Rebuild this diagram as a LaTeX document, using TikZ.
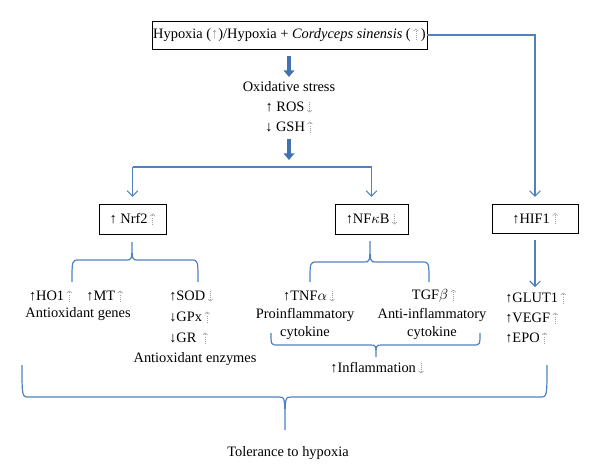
\documentclass[tikz,border=0pt]{standalone}
\usepackage{fontspec}
\setmainfont{Liberation Serif}
\usetikzlibrary{arrows.meta}
\definecolor{lblue}{HTML}{4F81BD}
\definecolor{dblue}{HTML}{4372B0}
\newcommand\dup{\,\tikz[baseline=0pt]\draw[gray!75, densely dotted, line width=0.55pt, -{Straight Barb[length=1.5pt,width=3.6pt,line width=0.45pt]}] (0,-0.6pt) -- (0,7.6pt);}
\newcommand\ddn{\,\tikz[baseline=0pt]\draw[gray!75, densely dotted, line width=0.55pt, -{Straight Barb[length=1.5pt,width=3.6pt,line width=0.45pt]}] (0,7.6pt) -- (0,-0.6pt);}
\newcommand\myhbrace[6]{%
  \draw[bl] (#1,#3) .. controls (#1,#4) and (#1,#4) .. ({#1+7},#4) -- ({#5-6},#4)
    .. controls (#5,#4) and (#5,#4) .. (#5,#6)
    .. controls (#5,#4) and (#5,#4) .. ({#5+6},#4) -- ({#2-7},#4)
    .. controls (#2,#4) and (#2,#4) .. (#2,#3);}
\begin{document}
\begin{tikzpicture}[x=0.75pt,y=-0.75pt,
  font=\fontsize{10.8}{12}\selectfont,
  bl/.style={draw=lblue, line width=0.9pt},
  arr/.style={bl, -{Straight Barb[length=4pt,width=8pt,line width=0.8pt]}},
  bigarr/.style={draw=dblue, line width=3.2pt, -{Triangle[length=5pt,width=8pt]}},
  box/.style={draw, line width=0.65pt, inner sep=0pt, minimum height=22pt},
  lab/.style={inner sep=0pt, anchor=center},
  labl/.style={inner sep=0pt, anchor=west},
  two/.style={inner sep=0pt, align=center, font=\fontsize{10.8}{13}\selectfont}]
\useasboundingbox (0,0) rectangle (600,472);

% top
\node[box, minimum width=206.25pt, minimum height=21pt] (top) at (289.5,35)
  {Hypoxia (\textcolor{gray!80}{↑})/Hypoxia + \textit{Cordyceps sinensis} (\dup\,)};

\coordinate (a1s) at (289,56);
\coordinate (a1e) at (289,77);
\draw[bigarr] (a1s) -- (a1e);
\node[lab] (ox) at (289,87) {Oxidative stress};
\node[lab] (ros) at (289,107) {↑ ROS\ddn};
\node[lab] (gsh) at (289,127) {↓ GSH\dup};
\coordinate (a2s) at (289,139);
\coordinate (a2e) at (289,160);
\draw[bigarr] (a2s) -- (a2e);

% boxes
\node[box, minimum width=50.25pt, minimum height=22.5pt] (nrf) at (132.5,219) {↑ Nrf2\dup};
\node[box, minimum width=54.75pt, minimum height=22.5pt] (nfkb) at (371.5,219) {↑NF$\kappa$B\ddn};
\node[box, minimum width=64.5pt, minimum height=21.75pt] (hif) at (535,218.5) {↑HIF1\dup};

\coordinate (hl) at (132.5,167);
\coordinate (hr) at (371.5,167);
\draw[bl] (hl) -- (hr);
\draw[arr, shorten >=5pt] (hl) -- (nrf.north);
\draw[arr, shorten >=5pt] (hr) -- (nfkb.north);
\draw[arr, shorten >=5pt] (top.east) -| (hif.north);

% braces under boxes
\myhbrace{72}{198}{282}{260}{132}{242}
\myhbrace{310}{429}{282}{262}{370}{241}

% Nrf2 children
\node[lab] (ho) at (76,296) {↑HO1\dup\quad ↑MT\dup};
\node[lab] (genes) at (78,314) {Antioxidant genes};
\node[labl] (sod) at (169,296) {↑SOD\ddn};
\node[labl] (gpx) at (169,317) {↓GPx\dup};
\node[labl] (gr) at (169,338) {↓GR\ \dup};
\node[lab] (enz) at (195,359) {Antioxidant enzymes};

% NFkB children
\node[lab] (tnf) at (309,296) {↑TNF$\alpha$\ddn};
\node[two] (pro) at (305,324) {Proinflammatory\\cytokine};
\node[lab] (tgf) at (434,296) {TGF$\beta$\dup};
\node[two] (anti) at (432,324) {Anti-inflammatory\\cytokine};
\myhbrace{271}{480}{333}{345}{376}{357}
\node[lab] (infl) at (377,368) {↑Inflammation\ddn};

% HIF1 children
\coordinate (hifa) at (535,287);
\draw[arr, shorten <=5pt] (hif.south) -- (hifa);
\node[labl] (glut) at (505,298) {↑GLUT1\dup};
\node[labl] (vegf) at (505,318) {↑VEGF\dup};
\node[labl] (epo) at (505,338) {↑EPO\dup};

% big brace
\myhbrace{22}{547}{365}{397}{285}{430}
\node[lab] (tol) at (288,453) {Tolerance to hypoxia};
\end{tikzpicture}
\end{document}
